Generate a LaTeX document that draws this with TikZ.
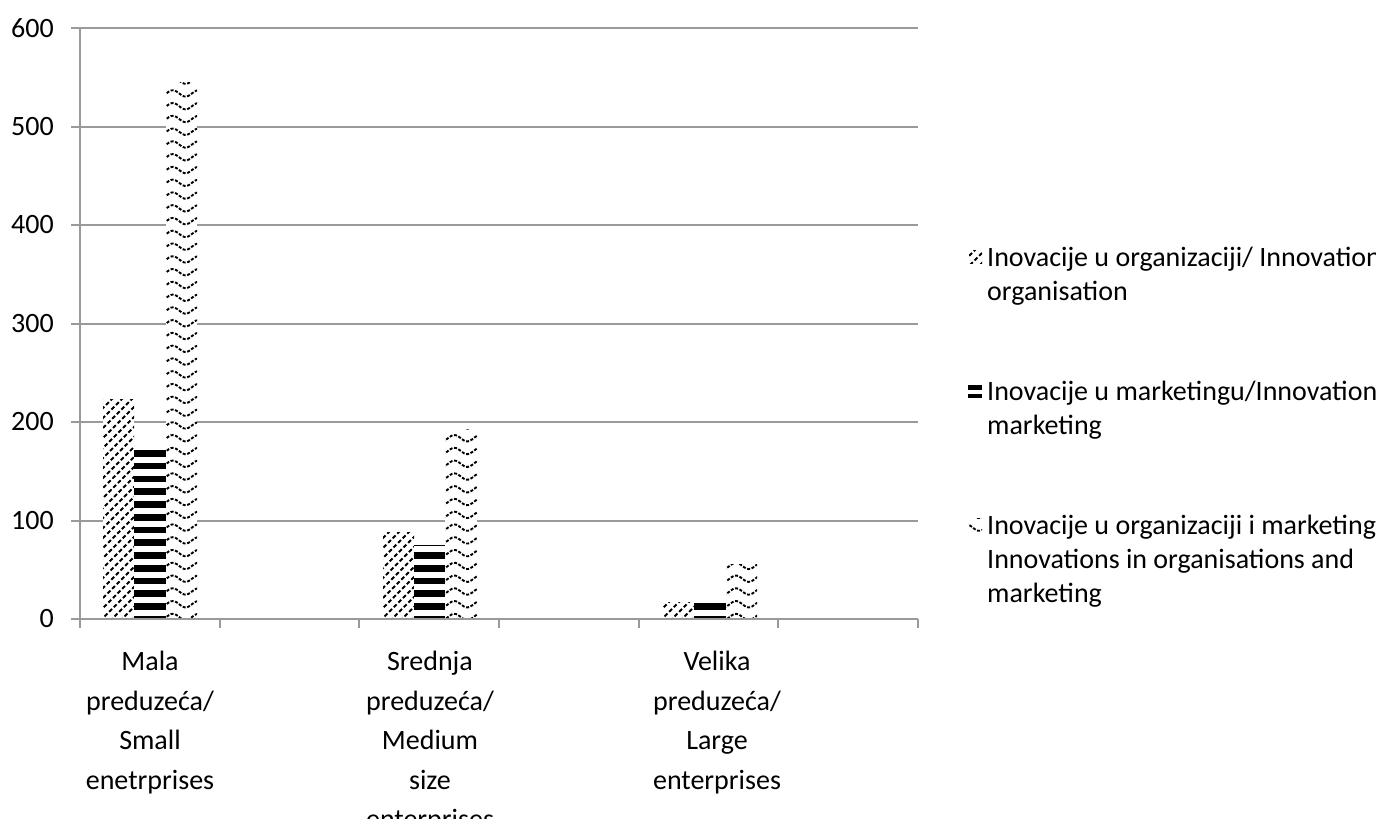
\documentclass[tikz,border=0pt]{standalone}
\usepackage{fontspec}
\setmainfont{Carlito}
\definecolor{axisgray}{HTML}{9A9A9A}
\tikzset{
  grid line/.style={draw=axisgray, line width=2pt},
  hatch line/.style={line width=2pt, dash pattern=on 4pt off 2.5pt},
  wave line/.style={line width=1.9pt, dash pattern=on 3pt off 1.6pt},
  ticklab/.style={anchor=east, font=\fontsize{28}{34}\selectfont, inner sep=0pt},
  catlab/.style={anchor=north, align=center, font=\fontsize{28}{39.5}\selectfont, inner sep=0pt},
  leglab/.style={anchor=north west, align=left, font=\fontsize{28}{34}\selectfont, inner sep=0pt},
}
% #1 x left, #2 x right, #3 y top, #4 y bottom (pixel coordinates, y downwards)
\newcommand\HatchFill[4]{%
  \begin{scope}
    \clip (#1,#3) rectangle (#2,#4);
    \pgfmathsetmacro\hstart{10*floor((#1-(#4-#3))/10)-10}
    \foreach \k in {0,...,30} {
      \draw[hatch line] (\hstart+10*\k, #4+2) -- ++(300,-300);
    }
  \end{scope}}
\newcommand\StripeFill[4]{%
  \begin{scope}
    \clip (#1,#3) rectangle (#2,#4);
    \foreach \k in {-15,...,15} {
      \fill (#1, 450+12.77*\k) rectangle (#2, 456.7+12.77*\k);
    }
  \end{scope}}
\newcommand\WaveFill[4]{%
  \begin{scope}
    \clip (#1,#3) rectangle (#2,#4);
    \foreach \r in {0,...,47} {
      \draw[wave line] plot[domain=#1-3:#2+3, samples=20, smooth]
        (\x, {617-12.77*\r + 3.2*sin(\x/25.6*360)});
    }
  \end{scope}}
\newcommand\BarH[3]{\fill[white] (#1,#3) rectangle (#2,619); \HatchFill{#1}{#2}{#3}{619}}
\newcommand\BarS[3]{\fill[white] (#1,#3) rectangle (#2,619); \StripeFill{#1}{#2}{#3}{619}}
\newcommand\BarW[3]{\fill[white] (#1,#3) rectangle (#2,619); \WaveFill{#1}{#2}{#3}{619}}
\begin{document}
\begin{tikzpicture}[x=1pt,y=-1pt]
\useasboundingbox[fill=white] (0,0) rectangle (1376,819);
% grid lines and axes
\foreach \v in {0,...,6} {
  \draw[grid line] (71,619-98.5*\v) -- (918,619-98.5*\v);
  \node[ticklab] (t\v) at (54,619-98.5*\v) {\pgfmathparse{int(100*\v)}\pgfmathresult};
}
\draw[grid line] (80,28) -- (80,619);
\foreach \k in {0,...,6} {
  \draw[grid line] (80+139.67*\k,619) -- (80+139.67*\k,628);
}
% bars: small enterprises
\BarH{103}{134}{399}
\BarS{134}{166}{450}
\BarW{166}{197}{82}
% medium
\BarH{383}{414}{532}
\BarS{414}{445}{545}
\BarW{445}{477}{429}
% large
\BarH{663}{694}{602}
\BarS{694}{726}{603}
\BarW{726}{757}{564}
\draw[grid line] (71,619) -- (918,619);
% category labels
\node[catlab] (c1) at (150,651) {Mala\\preduzeća/\\Small\\enetrprises};
\node[catlab] (c2) at (430,651) {Srednja\\preduzeća/\\Medium\\size\\enterprises};
\node[catlab] (c3) at (717,651) {Velika\\preduzeća/\\Large\\enterprises};
% legend
\fill[white] (969,250) rectangle (982,263); \HatchFill{969}{982}{250}{263}
\node[leglab] (l1) at (987,247) {Inovacije u organizaciji/ Innovation\\organisation};
\fill (968,385) rectangle (982,389.5);
\fill (968,393.5) rectangle (982,398);
\node[leglab] (l2) at (987,381) {Inovacije u marketingu/Innovation\\marketing};
\fill[white] (968,518) rectangle (982,531); \WaveFill{968}{982}{518}{531}
\node[leglab] (l3) at (987,515) {Inovacije u organizaciji i marketingu/\\Innovations in organisations and\\marketing};
\end{tikzpicture}
\end{document}
